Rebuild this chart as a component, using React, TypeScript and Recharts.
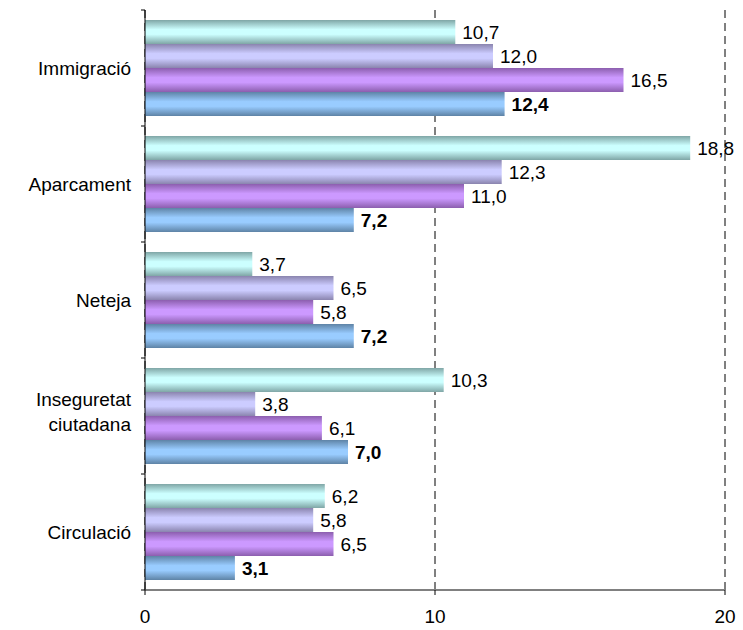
import React from "react";
import {
  BarChart,
  Bar,
  XAxis,
  YAxis,
  CartesianGrid,
  LabelList,
} from "recharts";

// categories top to bottom
const categories = [
  "Immigració",
  "Aparcament",
  "Neteja",
  "Inseguretat ciutadana",
  "Circulació",
];

// series, in bar order from top to bottom within each group
const serieA = [10.7, 18.8, 3.7, 10.3, 6.2];
const serieB = [12.0, 12.3, 6.5, 3.8, 5.8];
const serieC = [16.5, 11.0, 5.8, 6.1, 6.5];
const serieD = [12.4, 7.2, 7.2, 7.0, 3.1];

const xTicks = [0, 10, 20];

const data = categories.map((name, i) => ({
  name,
  a: serieA[i],
  b: serieB[i],
  c: serieC[i],
  d: serieD[i],
}));

const GRADIENTS = [
  { id: "gA", edge: "#7fa6a6", mid: "#ccffff" },
  { id: "gB", edge: "#8a84ae", mid: "#ccccff" },
  { id: "gC", edge: "#8c5eae", mid: "#cc99ff" },
  { id: "gD", edge: "#5e83a6", mid: "#99ccff" },
];

const FONT = "Liberation Sans, Arial, sans-serif";
const FS = 19;

const fmt = (v: any) => Number(v).toFixed(1).replace(".", ",");

// category label with line wrapping and boundary tick marks
const CategoryTick = (props: any) => {
  const { x, y, payload, index } = props;
  const half = payload && payload.offset ? payload.offset : 58;
  const words = String(payload.value).split(" ");
  const lines = words.length > 1 ? words : [payload.value];
  const lineH = 25;
  const startY = y - ((lines.length - 1) * lineH) / 2 - (lines.length - 1) * 5;
  const axisX = x + 14;
  return (
    <g>
      <line x1={axisX - 4} x2={axisX} y1={y - half} y2={y - half} stroke="#000" />
      {index === categories.length - 1 && (
        <line x1={axisX - 4} x2={axisX} y1={y + half} y2={y + half} stroke="#000" />
      )}
      <text
        x={x}
        y={startY}
        textAnchor="end"
        dominantBaseline="central"
        fontSize={FS}
        fontFamily={FONT}
        fill="#000"
      >
        {lines.map((l: string, i: number) => (
          <tspan key={i} x={x} dy={i === 0 ? 0 : lineH}>
            {l}
          </tspan>
        ))}
      </text>
    </g>
  );
};

export default function App() {
  return (
    <div style={{ position: "absolute", left: 0, top: 0 }}>
      <BarChart
        width={743}
        height={630}
        data={data}
        layout="vertical"
        margin={{ top: 10, right: 18, bottom: 10, left: 0 }}
        barCategoryGap="8.6%"
        barGap={0}
      >
        <defs>
          {GRADIENTS.map((g) => (
            <linearGradient key={g.id} id={g.id} x1="0" y1="0" x2="0" y2="1">
              <stop offset="0%" stopColor={g.edge} />
              <stop offset="40%" stopColor={g.mid} />
              <stop offset="60%" stopColor={g.mid} />
              <stop offset="100%" stopColor={g.edge} />
            </linearGradient>
          ))}
        </defs>
        <CartesianGrid
          horizontal={false}
          stroke="#000"
          strokeDasharray="8 5"
        />
        <XAxis
          type="number"
          domain={[0, 20]}
          ticks={xTicks}
          height={30}
          axisLine={{ stroke: "#808080", strokeWidth: 2 }}
          tickLine={{ stroke: "#000" }}
          tickSize={5}
          tickMargin={15}
          tick={{ fontSize: FS, fill: "#000", fontFamily: FONT }}
        />
        <YAxis
          type="category"
          dataKey="name"
          width={145}
          axisLine={{ stroke: "#000" }}
          tickLine={false}
          tickSize={0}
          tickMargin={14}
          interval={0}
          tick={<CategoryTick />}
        />
        {(["a", "b", "c", "d"] as const).map((k, i) => (
          <Bar
            key={k}
            dataKey={k}
            fill={`url(#${GRADIENTS[i].id})`}
            isAnimationActive={false}
          >
            <LabelList
              dataKey={k}
              position="right"
              offset={7}
              formatter={fmt}
              style={{
                fontSize: FS,
                fill: "#000",
                fontWeight: k === "d" ? "bold" : "normal",
                fontFamily: FONT,
              }}
            />
          </Bar>
        ))}
      </BarChart>
    </div>
  );
}
